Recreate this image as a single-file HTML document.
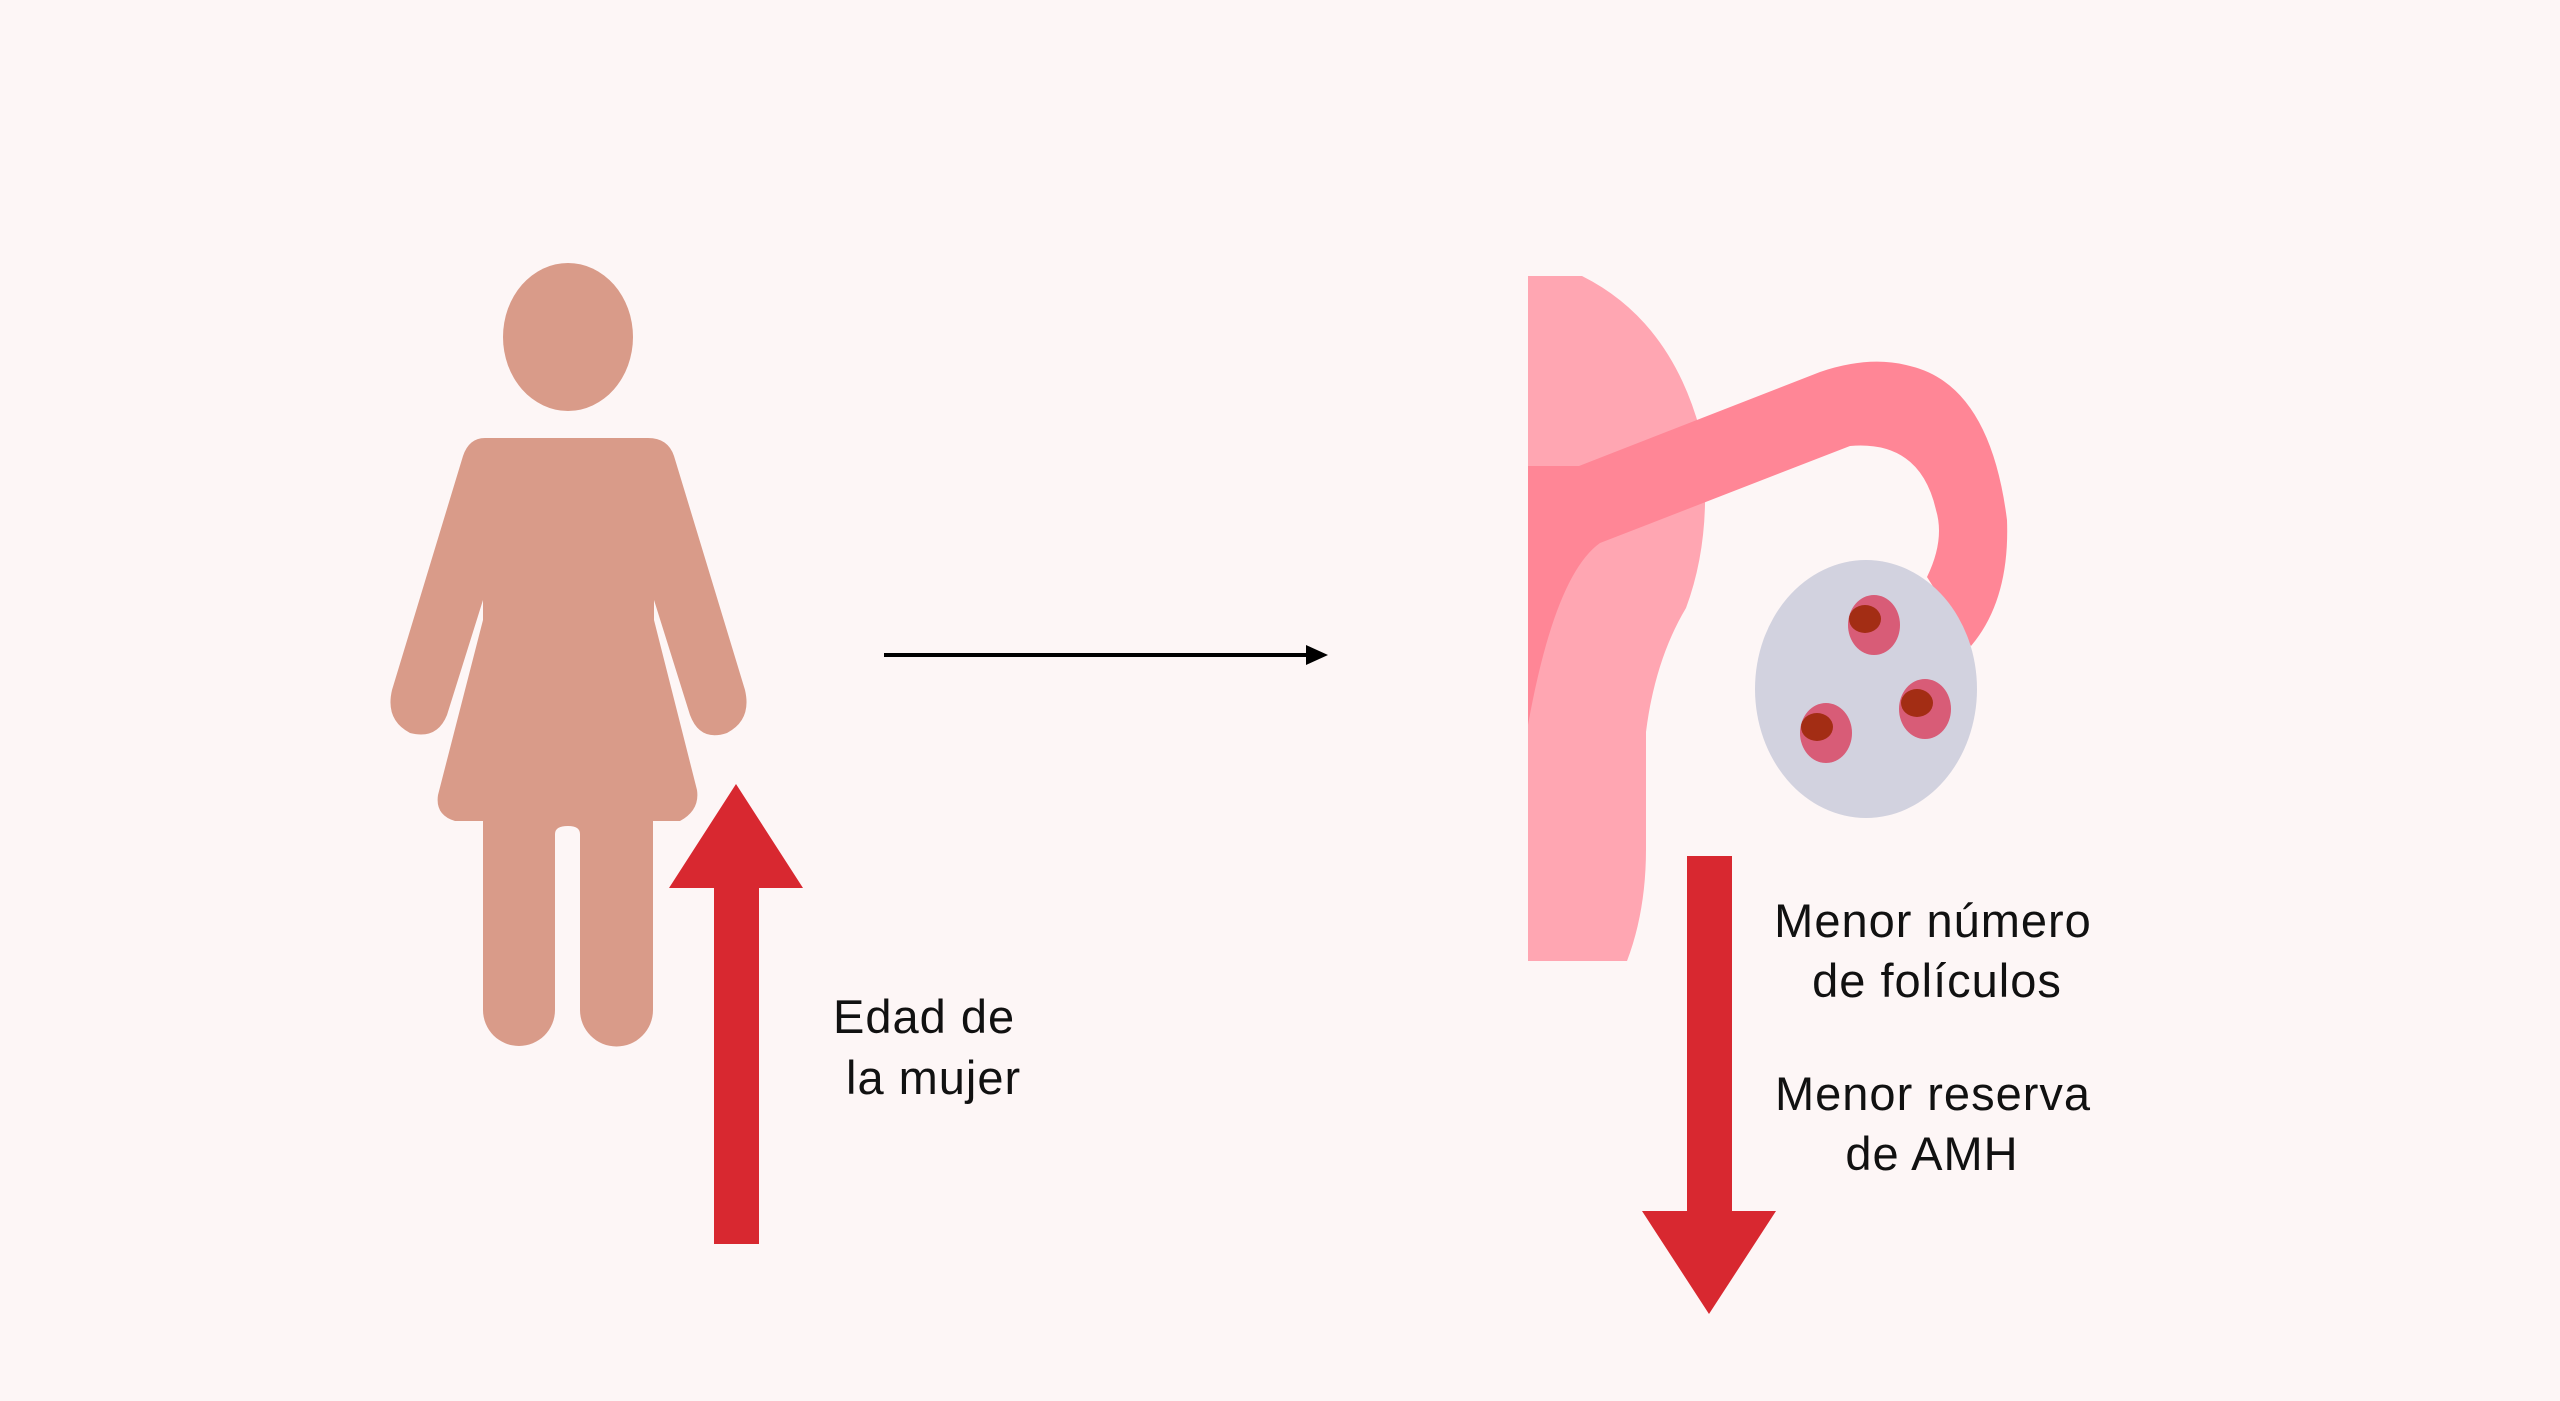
<!DOCTYPE html>
<html><head><meta charset="utf-8"><style>
html,body{margin:0;padding:0;background:#fdf6f6;}
svg{display:block;}
text{font-family:"Liberation Sans",sans-serif;font-size:47px;fill:#111;letter-spacing:1px;}
</style></head><body>
<svg width="2560" height="1401" viewBox="0 0 2560 1401" xmlns="http://www.w3.org/2000/svg">
<rect width="2560" height="1401" fill="#fdf6f6"/>
<g fill="#d99b89">
<ellipse cx="568" cy="337" rx="65" ry="74"/>
<path d="M485 438 H648 Q668 438 674 456 L745 690 Q752 720 727 733 Q700 742 690 715 L654 600 V620 L697 790 Q700 810 680 821 H653 V1010 A36 36 0 0 1 580 1010 V834 Q580 826 568 826 Q555 826 555 834 V1010 A36 36 0 0 1 483 1010 V821 H455 Q435 815 438 795 L483 620 V600 L447 715 Q437 740 410 733 Q385 720 392 690 L463 456 Q469 438 485 438 Z"/>
</g>
<polygon points="736,784 803,888 759,888 759,1244 714,1244 714,888 669,888" fill="#d82830"/>
<text x="833" y="1033">Edad de</text>
<text x="846" y="1094">la mujer</text>
<line x1="884" y1="655" x2="1312" y2="655" stroke="#000" stroke-width="4"/>
<polygon points="1328,655 1306,645 1306,665" fill="#000"/>
<path d="M1528 276 H1582 Q1670 320 1700 430 Q1715 530 1686 608 Q1655 660 1646 732 V849 Q1646 911 1627 961 H1528 Z" fill="#ffa6b2"/>
<path d="M1528 466 H1579 L1820 372 Q1870 355 1910 366 Q1990 385 2007 520 Q2010 600 1971 646 L1927 577 Q1945 540 1936 510 Q1920 440 1850 446 L1600 543 Q1555 575 1528 725 Z" fill="#ff8696"/>
<ellipse cx="1866" cy="689" rx="111" ry="129" fill="#d2d2df"/>
<g fill="#d85c77">
<ellipse cx="1874" cy="625" rx="26" ry="30"/>
<ellipse cx="1925" cy="709" rx="26" ry="30"/>
<ellipse cx="1826" cy="733" rx="26" ry="30"/>
</g>
<g fill="#a32d14">
<ellipse cx="1865" cy="619" rx="16" ry="14"/>
<ellipse cx="1917" cy="703" rx="16" ry="14"/>
<ellipse cx="1817" cy="727" rx="16" ry="14"/>
</g>
<polygon points="1687,856 1732,856 1732,1211 1776,1211 1709,1314 1642,1211 1687,1211" fill="#d82830"/>
<g text-anchor="middle">
<text x="1933" y="937">Menor número</text>
<text x="1937" y="997">de folículos</text>
<text x="1933" y="1110">Menor reserva</text>
<text x="1932" y="1170">de AMH</text>
</g>
</svg>
</body></html>
